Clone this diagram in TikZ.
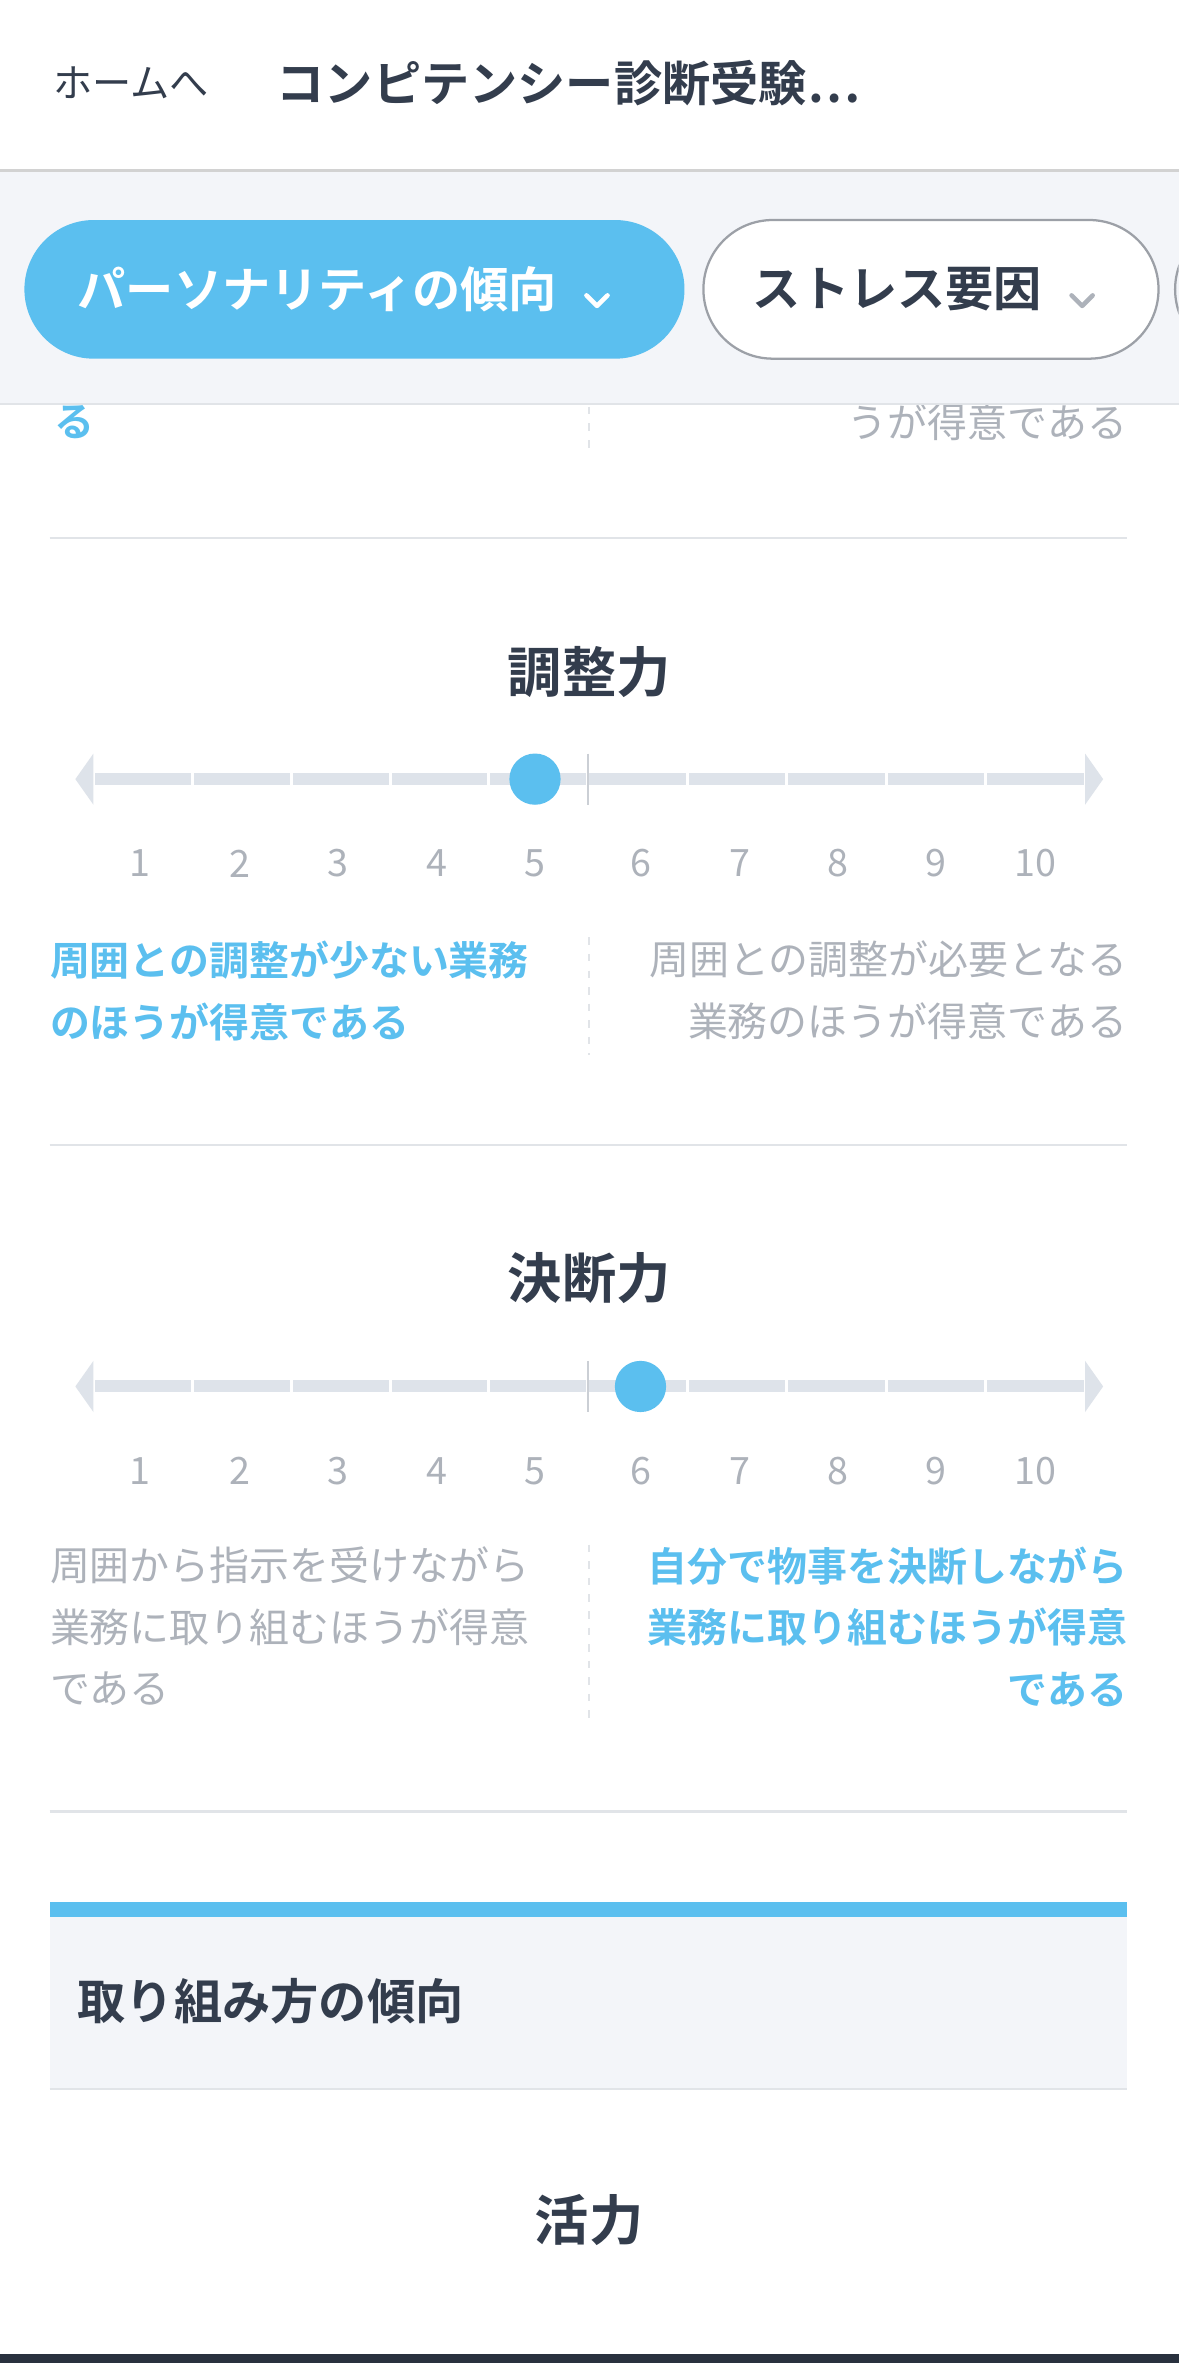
\documentclass[tikz,border=0pt]{standalone}
\usepackage{fontspec}
\setmainfont{Noto Sans CJK JP}
\newfontfamily\jpbold{Noto Sans CJK JP Bold}
\definecolor{skyblue}{HTML}{5BBFEF}
\definecolor{inkdark}{HTML}{333D4D}
\definecolor{softgray}{HTML}{ADB2BA}
\definecolor{barbg}{HTML}{F3F5F9}
\definecolor{railgray}{HTML}{DEE3EA}
\definecolor{rulegray}{HTML}{E1E4E8}
\tikzset{
  pill/.style={rounded corners=46pt, minimum height=92pt, inner sep=0pt},
  heading/.style={font=\jpbold\fontsize{36}{40}\selectfont, text=inkdark},
  numlabel/.style={font=\fontsize{25}{28}\selectfont, text=softgray},
  hinton/.style={font=\jpbold\fontsize{26.5}{41}\selectfont, text=skyblue, inner sep=0pt},
  hintoff/.style={font=\fontsize{26.5}{41}\selectfont, text=softgray, inner sep=0pt},
  rule/.style={draw=rulegray, line width=1.5pt},
  midline/.style={draw=rulegray, line width=1.2pt, dash pattern=on 5pt off 6pt},
  chevron/.style={line width=3pt, line cap=round, line join=round}
}
% one score rail: #1 = y of rail, #2 = x of dot
\newcommand{\scorerail}[2]{%
  \fill[railgray] (50,#1) -- (62,#1-17) -- (62,#1+17) -- cycle;
  \fill[railgray] (732,#1) -- (720,#1-17) -- (720,#1+17) -- cycle;
  \foreach \i in {0,...,4} {
    \fill[railgray] ({62+\i*65.6+1},#1-4) rectangle ({62+(\i+1)*65.6-1},#1+4);
    \fill[railgray] ({390+\i*66+1},#1-4) rectangle ({390+(\i+1)*66-1},#1+4);
  }
  \draw[railgray!80!gray, line width=1.5pt] (390,#1-17) -- (390,#1+17);
  \fill[skyblue] (#2,#1) circle (17);
  \foreach \n/\x in {1/93,2/159,3/224,4/290,5/355,6/425,7/491,8/556,9/621,10/687}
    \node[numlabel] at (\x,#1+56) {\n};
}
\begin{document}
\begin{tikzpicture}[x=1pt,y=-1pt]
\useasboundingbox (0,0) rectangle (782,1568);
% header
\fill[white] (0,0) rectangle (782,112);
\fill[barbg] (0,112) rectangle (782,268);
\fill[gray!35] (0,112) rectangle (782,114);
\node[anchor=west, font=\fontsize{26}{30}\selectfont, text=inkdark] (home) at (32,55) {ホームへ};
\node[anchor=west, font=\jpbold\fontsize{32}{36}\selectfont, text=inkdark] (title) at (180,55) {コンピテンシー診断受験\raisebox{-1pt}{…}};
% tabs
\node[pill, fill=skyblue, minimum width=438pt, anchor=west] (tabone) at (16,192) {};
\node[anchor=west, font=\jpbold\fontsize{32}{36}\selectfont, text=white] (tabonetext) at (48,192) {パーソナリティの傾向};
\draw[chevron, white] ([xshift=16pt,yshift=-4pt]tabonetext.east) -- ++(7,7) -- ++(7,-7);
\node[pill, fill=white, draw=softgray!90!black, line width=1.5pt, minimum width=302pt, anchor=west] (tabtwo) at (466,192) {};
\node[anchor=west, font=\jpbold\fontsize{32}{36}\selectfont, text=inkdark] (tabtwotext) at (496,192) {ストレス要因};
\draw[chevron, softgray] ([xshift=16pt,yshift=-4pt]tabtwotext.east) -- ++(7,7) -- ++(7,-7);
\begin{scope}
\clip (776,100) rectangle (782,260);
\node[pill, draw=softgray!90!black, line width=1.5pt, minimum width=200pt, anchor=west] (tabthree) at (779,192) {};
\end{scope}
\fill[white] (0,268) rectangle (782,1568);
\draw[rule] (0,268) -- (782,268);
% cut-off texts under the tabs
\begin{scope}
\clip (0,269) rectangle (782,300);
\node[hinton, anchor=west] (prevon) at (36,280) {る};
\node[hintoff, anchor=east] (prevoff) at (748,280) {うが得意である};
\end{scope}
\draw[midline] (391,270) -- (391,298);
\draw[rule] (33,357) -- (748,357);
% 調整力
\node[heading] (adjust) at (391,446) {調整力};
\scorerail{517}{355}
\node[hinton, anchor=north west, align=left] (adjustlo) at (33,624) {周囲との調整が少ない業務\\のほうが得意である};
\node[hintoff, anchor=north east, align=right] (adjusthi) at (748,624) {周囲との調整が必要となる\\業務のほうが得意である};
\draw[midline] (391,622) -- (391,700);
\draw[rule] (33,760) -- (748,760);
% 決断力
\node[heading] (decide) at (391,848) {決断力};
\scorerail{920}{425}
\node[hintoff, anchor=north west, align=left] (decidelo) at (33,1026) {周囲から指示を受けながら\\業務に取り組むほうが得意\\である};
\node[hinton, anchor=north east, align=right] (decidehi) at (748,1026) {自分で物事を決断しながら\\業務に取り組むほうが得意\\である};
\draw[midline] (391,1025) -- (391,1142);
\draw[rule] (33,1202) -- (748,1202);
% section header
\fill[skyblue] (33,1262) rectangle (748,1272);
\fill[barbg] (33,1272) rectangle (748,1386);
\draw[rule] (33,1386) -- (748,1386);
\node[anchor=west, font=\jpbold\fontsize{32}{36}\selectfont, text=inkdark] (method) at (48,1328) {取り組み方の傾向};
\node[heading] (vigor) at (391,1473) {活力};
\fill[inkdark!80!black] (0,1562) rectangle (782,1568);
\end{tikzpicture}
\end{document}
